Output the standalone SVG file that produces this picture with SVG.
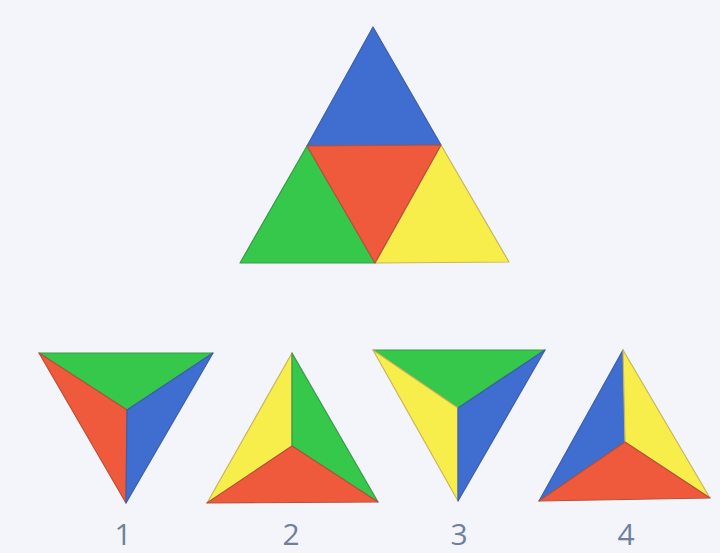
<svg xmlns="http://www.w3.org/2000/svg" width="720" height="553" viewBox="0 0 720 553">
<style>
.b{fill:#3f6dd0;stroke:#3a5fae;stroke-width:1.2;stroke-linejoin:round}
.r{fill:#f05a3c;stroke:#b8503a;stroke-width:1.2;stroke-linejoin:round}
.g{fill:#35c84a;stroke:#3a9a48;stroke-width:1.2;stroke-linejoin:round}
.y{fill:#f7ee4c;stroke:#c9b65a;stroke-width:1.2;stroke-linejoin:round}
.lbl{font-family:"Open Sans","Noto Sans",sans-serif;font-size:30px;fill:#6f7f9c;text-anchor:middle}
</style>
<rect width="720" height="553" fill="#f3f5fb"/>
<g id="main">
<polygon class="b" points="373,27 307,146 441,145"/>
<polygon class="g" points="307,146 240,263 375,263"/>
<polygon class="y" points="441,145 375,263 509,262"/>
<polygon class="r" points="307,146 441,145 375,263"/>
</g>
<g id="opt1">
<polygon class="g" points="39,353 213,353 127,410"/>
<polygon class="r" points="39,353 127,410 126,503"/>
<polygon class="b" points="213,353 127,410 126,503"/>
</g>
<g id="opt2">
<polygon class="y" points="292,353 292,446 207,503"/>
<polygon class="g" points="292,353 292,446 378,502"/>
<polygon class="r" points="207,503 292,446 378,502"/>
</g>
<g id="opt3">
<polygon class="g" points="373,350 545,350 458,408"/>
<polygon class="y" points="373,350 458,408 458,501"/>
<polygon class="b" points="545,350 458,408 458,501"/>
</g>
<g id="opt4">
<polygon class="b" points="623,350 625,442 539,501"/>
<polygon class="y" points="623,350 625,442 710,498"/>
<polygon class="r" points="539,501 625,442 710,498"/>
</g>
<g id="labels">
<text class="lbl" x="123" y="545">1</text>
<text class="lbl" x="291" y="545">2</text>
<text class="lbl" x="459" y="545">3</text>
<text class="lbl" x="626" y="545">4</text>
</g>
</svg>
